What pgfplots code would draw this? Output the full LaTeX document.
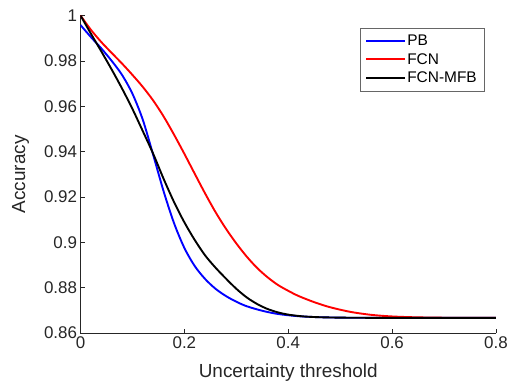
\documentclass[border=0pt]{standalone}
\usepackage{pgfplots}
\pgfplotsset{compat=1.18}
\usepackage{fontspec}
\setmainfont{Liberation Sans}
\definecolor{axgray}{rgb}{0.15,0.15,0.15}
\definecolor{mblue}{rgb}{0,0,1}
\definecolor{mred}{rgb}{1,0,0}
\begin{document}
\begin{tikzpicture}
\path[use as bounding box] (-80.5bp,-50bp) rectangle (427.5bp,333bp);
\begin{axis}[
  scale only axis, width=415.5bp, height=317.5bp,
  xmin=0, xmax=0.8, ymin=0.86, ymax=1,
  axis x line*=bottom, axis y line*=left,
  axis line style={color=axgray, line width=0.6pt},
  xtick={0,0.2,0.4,0.6,0.8}, xticklabels={0,0.2,0.4,0.6,0.8},
  ytick={0.86,0.88,0.9,0.92,0.94,0.96,0.98,1},
  yticklabels={0.86,0.88,0.9,0.92,0.94,0.96,0.98,1},
  tick align=inside, major tick length=4.5bp,
  tick style={color=axgray, line width=0.6pt},
  tick label style={font=\fontsize{17}{20}\selectfont, text=axgray},
  label style={font=\fontsize{19}{22}\selectfont, text=axgray},
  xlabel={Uncertainty threshold}, ylabel={Accuracy},
  xlabel shift=8bp, ylabel shift=8bp,
  legend style={at={(0.971,0.9606)}, anchor=north east, draw=black!60,
    font=\fontsize{15.5}{18}\selectfont, inner xsep=5bp, inner ysep=4.5bp, row sep=2.5pt},
  legend cell align=left,
  legend image code/.code={\draw[mark repeat=2,mark phase=2,#1] plot coordinates {(0bp,0bp) (19bp,0bp) (38bp,0bp)};},
]
\addplot[color=mblue, line width=1.9pt, smooth] coordinates {
(0,0.9958) (0.02,0.9905) (0.04,0.9855) (0.06,0.9800) (0.08,0.9738) (0.10,0.9655)
(0.12,0.9540) (0.14,0.9385) (0.16,0.9225) (0.18,0.9085) (0.20,0.8975) (0.22,0.8895)
(0.24,0.8838) (0.26,0.8795) (0.28,0.8763) (0.30,0.8738) (0.32,0.8718) (0.35,0.8698)
(0.38,0.8684) (0.42,0.8674) (0.47,0.8669) (0.55,0.8667) (0.8,0.8667)};
\addlegendentry{PB}
\addplot[color=mred, line width=1.9pt, smooth] coordinates {
(0,1.0) (0.02,0.9937) (0.04,0.9883) (0.06,0.9835) (0.08,0.9788) (0.10,0.9738)
(0.12,0.9685) (0.14,0.9625) (0.16,0.9555) (0.18,0.9475) (0.20,0.9390) (0.22,0.9302)
(0.24,0.9215) (0.26,0.9133) (0.28,0.9060) (0.30,0.8995) (0.32,0.8937) (0.34,0.8887)
(0.36,0.8846) (0.38,0.8812) (0.40,0.8786) (0.42,0.8763) (0.45,0.8736) (0.48,0.8714)
(0.52,0.8693) (0.56,0.8680) (0.60,0.8673) (0.65,0.8669) (0.72,0.8667) (0.8,0.8667)};
\addlegendentry{FCN}
\addplot[color=black, line width=1.9pt, smooth] coordinates {
(0,1.0) (0.02,0.9920) (0.04,0.9842) (0.06,0.9762) (0.08,0.9678) (0.10,0.9588)
(0.12,0.9490) (0.14,0.9390) (0.16,0.9280) (0.18,0.9178) (0.20,0.9088) (0.22,0.9010)
(0.24,0.8942) (0.26,0.8888) (0.28,0.8840) (0.30,0.8795) (0.32,0.8757) (0.34,0.8728)
(0.36,0.8706) (0.38,0.8691) (0.40,0.8681) (0.43,0.8673) (0.47,0.8669) (0.55,0.8667) (0.8,0.8667)};
\addlegendentry{FCN-MFB}
\end{axis}
\end{tikzpicture}
\end{document}
